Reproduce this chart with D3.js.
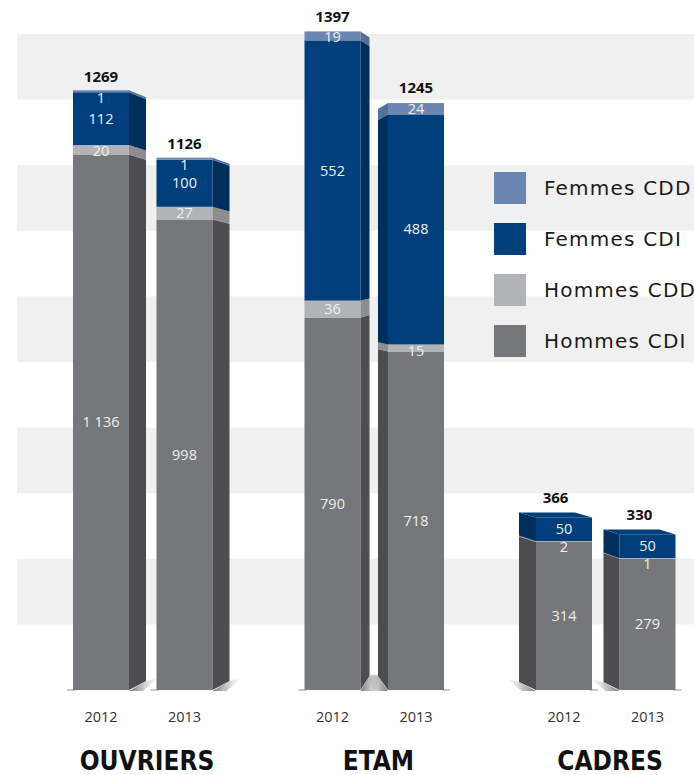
<!DOCTYPE html>
<html>
<head>
<meta charset="utf-8">
<script src="https://cdn.jsdelivr.net/npm/d3@7"></script>
<style>
  body { margin: 0; background: #fff; overflow: hidden; }
  svg { display: block; }
</style>
</head>
<body>
<div id="chart"></div>
<script>
// categories
var groups = ["OUVRIERS", "ETAM", "CADRES"];
var years = ["2012", "2013"];

// series values, one per bar (OUVRIERS 2012, 2013, ETAM 2012, 2013, CADRES 2012, 2013)
var hommesCDI = [1136, 998, 790, 718, 314, 279];
var hommesCDD = [20, 27, 36, 15, 2, 1];
var femmesCDI = [112, 100, 552, 488, 50, 50];
var femmesCDD = [1, 1, 19, 24, 0, 0];

var keys = ["Hommes CDI", "Hommes CDD", "Femmes CDI", "Femmes CDD"];
var legendKeys = ["Femmes CDD", "Femmes CDI", "Hommes CDD", "Hommes CDI"];

function renderChart(el) {
    var width = 694, height = 775;

    var colors = {
        "Femmes CDD": "#6b86b1",
        "Femmes CDI": "#003f7b",
        "Hommes CDD": "#b1b3b6",
        "Hommes CDI": "#76777b"
    };
    var sideColors = {
        "Femmes CDD": "#56709a",
        "Femmes CDI": "#002f5e",
        "Hommes CDD": "#8c8d90",
        "Hommes CDI": "#4d4d4f"
    };

    // build one row per bar
    var rows = hommesCDI.map(function(v, i) {
        return {
            group: groups[Math.floor(i / 2)],
            year: years[i % 2],
            "Hommes CDI": hommesCDI[i],
            "Hommes CDD": hommesCDD[i],
            "Femmes CDI": femmesCDI[i],
            "Femmes CDD": femmesCDD[i],
            total: hommesCDI[i] + hommesCDD[i] + femmesCDI[i] + femmesCDD[i],
            idx: i
        };
    });

    // fake 3D look for each bar: which side is visible, its depth, and how the edges recede
    var look = [
        {side: 1, w: 17, dt: 7, db: -9},
        {side: 1, w: 17, dt: 6, db: -9},
        {side: 1, w: 9, dt: 6, db: -14},
        {side: -1, w: 10, dt: 6, db: -14},
        {side: -1, w: 17, dt: -5, db: -8},
        {side: -1, w: 16, dt: -5, db: -8}
    ];

    var svg = d3.select("#" + el)
        .append("svg")
        .attr("width", width)
        .attr("height", height);

    var defs = svg.append("defs");
    var grad = defs.append("linearGradient").attr("id", "shadow").attr("x1", "0").attr("x2", "1").attr("y1", "0").attr("y2", "0");
    grad.append("stop").attr("offset", "0%").attr("stop-color", "#555").attr("stop-opacity", 0.8);
    grad.append("stop").attr("offset", "100%").attr("stop-color", "#999").attr("stop-opacity", 0);
    var gradL = defs.append("linearGradient").attr("id", "shadowL").attr("x1", "1").attr("x2", "0").attr("y1", "0").attr("y2", "0");
    gradL.append("stop").attr("offset", "0%").attr("stop-color", "#555").attr("stop-opacity", 0.8);
    gradL.append("stop").attr("offset", "100%").attr("stop-color", "#999").attr("stop-opacity", 0);

    // y scale
    var y = d3.scaleLinear().domain([0, 1400]).range([690, 30]);
    var base = y(0);

    // striped background
    var stripes = d3.scaleBand().domain(d3.range(10)).range([34, 690]);
    svg.append("g").selectAll("rect")
        .data(stripes.domain().filter(function(d) { return d % 2 == 0; }))
        .enter().append("rect")
        .attr("x", 17)
        .attr("y", function(d) { return stripes(d); })
        .attr("width", width - 17)
        .attr("height", stripes.bandwidth())
        .attr("fill", "#f0f0f0");

    // x scales
    var x0 = d3.scaleBand().domain(groups).range([60, 60 + 231.5 * 3]);
    var x1 = d3.scaleBand().domain(years).range([13, 152.5]).paddingInner(0.329).paddingOuter(0);
    var bw = x1.bandwidth();

    var stack = d3.stack().keys(keys);
    var series = stack(rows);

    // far edge of the side face for a given front y
    function farY(d, yy) {
        var L = look[d.idx];
        var top = y(d.total);
        return yy + L.dt + (L.db - L.dt) * (yy - top) / (base - top);
    }

    var bars = svg.append("g").selectAll("g.bar")
        .data(rows)
        .enter().append("g")
        .attr("class", "bar")
        .attr("transform", function(d) { return "translate(" + (x0(d.group) + x1(d.year)) + ",0)"; });

    // ground shadow
    bars.append("path")
        .attr("fill", function(d) { return look[d.idx].side > 0 ? "url(#shadow)" : "url(#shadowL)"; })
        .attr("d", function(d) {
            var L = look[d.idx];
            var xe = L.side > 0 ? bw : 0;
            var xf = xe + L.side * L.w;
            var yb = farY(d, base);
            return "M" + xe + "," + (base + 1) +
                "L" + xf + "," + yb +
                "L" + (xf + L.side * 12) + "," + (yb - 3) +
                "L" + (xe + L.side * 14) + "," + (base + 1) + "Z";
        });
    bars.append("rect")
        .attr("x", function(d) { return look[d.idx].side > 0 ? -6 : bw - 2; })
        .attr("y", base - 1)
        .attr("width", 8)
        .attr("height", 2)
        .attr("fill", "#c8c8c8");

    // segments: front faces and side faces
    series.forEach(function(s) {
        var key = s.key;
        s.forEach(function(seg, i) {
            var d = rows[i];
            if (d[key] <= 0) return;
            var L = look[i];
            var g = bars.filter(function(b) { return b.idx == i; });
            var yTop = y(seg[1]), yBot = y(seg[0]);
            if (yBot - yTop < 2) yTop = yBot - 2;
            g.append("rect")
                .attr("x", 0)
                .attr("y", yTop)
                .attr("width", bw)
                .attr("height", yBot - yTop)
                .attr("fill", colors[key]);
            var xe = L.side > 0 ? bw : 0;
            var xf = xe + L.side * L.w;
            g.append("path")
                .attr("fill", sideColors[key])
                .attr("d", "M" + xe + "," + yTop + "L" + xf + "," + farY(d, yTop) +
                    "L" + xf + "," + farY(d, yBot) + "L" + xe + "," + yBot + "Z");
        });
    });

    // top face when seen from above
    bars.filter(function(d) { return look[d.idx].dt < 0; })
        .append("path")
        .attr("fill", function(d) {
            var k = keys.filter(function(k) { return d[k] > 0; });
            return colors[k[k.length - 1]];
        })
        .attr("d", function(d) {
            var L = look[d.idx];
            var t = y(d.total);
            return "M0," + t + "L" + bw + "," + t +
                "L" + (bw + L.side * L.w) + "," + (t + L.dt) +
                "L" + (L.side * L.w) + "," + (t + L.dt) + "Z";
        });

    // value labels inside
    var fr = d3.formatLocale({decimal: ",", thousands: " ", grouping: [3], currency: ["", "€"]}).format(",d");
    series.forEach(function(s) {
        var key = s.key;
        s.forEach(function(seg, i) {
            var d = rows[i];
            if (d[key] <= 0) return;
            var yTop = y(seg[1]), yBot = y(seg[0]);
            var cy = Math.max((yTop + yBot) / 2, yTop + 6);
            bars.filter(function(b) { return b.idx == i; })
                .append("text")
                .attr("x", bw / 2)
                .attr("y", cy)
                .attr("dy", "0.35em")
                .attr("text-anchor", "middle")
                .attr("font-family", "Open Sans")
                .attr("font-size", "14.5px")
                .attr("fill", "#eeeeee")
                .text(fr(d[key]));
        });
    });

    // totals
    bars.append("text")
        .attr("x", function(d) {
            var L = look[d.idx];
            return bw / 2 + (L.dt < 0 ? L.side * L.w / 2 : 0);
        })
        .attr("y", function(d) { return y(d.total) - (look[d.idx].dt < 0 ? 20 : 15); })
        .attr("dy", "0.35em")
        .attr("text-anchor", "middle")
        .attr("font-family", "Open Sans")
        .attr("font-weight", "bold")
        .attr("font-size", "15px")
        .attr("fill", "#111")
        .text(function(d) { return d.total; });

    // year labels
    bars.append("text")
        .attr("x", bw / 2)
        .attr("y", 717)
        .attr("dy", "0.35em")
        .attr("text-anchor", "middle")
        .attr("font-family", "Open Sans")
        .attr("font-size", "14.5px")
        .attr("fill", "#333")
        .text(function(d) { return d.year; });

    // group labels
    svg.append("g").selectAll("text")
        .data(groups)
        .enter().append("text")
        .attr("x", function(d) { return x0(d) + 87; })
        .attr("y", 770)
        .attr("text-anchor", "middle")
        .attr("font-family", "DejaVu Sans Condensed")
        .attr("font-weight", "bold")
        .attr("font-size", "26px")
        .attr("fill", "#111")
        .text(function(d) { return d; });

    // legend
    var legend = svg.append("g").selectAll("g")
        .data(legendKeys)
        .enter().append("g")
        .attr("transform", function(d, i) { return "translate(494," + (172 + i * 51) + ")"; });
    legend.append("rect")
        .attr("width", 32)
        .attr("height", 32)
        .attr("fill", function(d) { return colors[d]; });
    legend.append("text")
        .attr("x", 50)
        .attr("y", 16)
        .attr("dy", "0.35em")
        .attr("font-family", "DejaVu Sans")
        .attr("font-size", "20px")
        .attr("letter-spacing", "1.2px")
        .attr("fill", "#1a1a1a")
        .text(function(d) { return d; });
}

renderChart("chart");
</script>
</body>
</html>
